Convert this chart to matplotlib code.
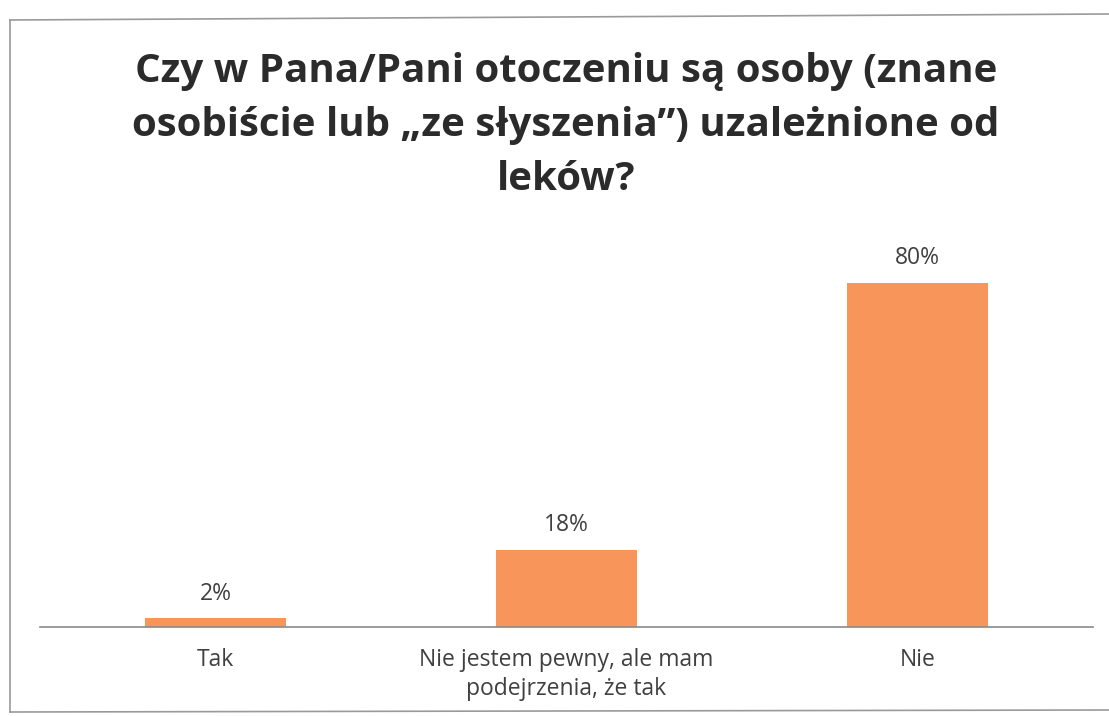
import matplotlib.pyplot as plt
from matplotlib.lines import Line2D

plt.rcParams['font.family'] = ['Open Sans', 'DejaVu Sans']

title = "Czy w Pana/Pani otoczeniu są osoby (znane\nosobiście lub \u201eze słyszenia\u201d) uzależnione od\nleków?"
categories = ["Tak", "Nie jestem pewny, ale mam\npodejrzenia, że tak", "Nie"]
shares = [0.02, 0.18, 0.80]
labels = ["2%", "18%", "80%"]

W, H = 1109, 716
fig = plt.figure(figsize=(W / 100, H / 100), dpi=100)

# axes placed in pixel terms
left, right, base, top = 40, 1093, 627, 240
ax = fig.add_axes([left / W, (H - base) / H, (right - left) / W, (base - top) / H])

x = range(len(categories))
ax.bar(x, shares, width=0.4, color='#F8955A')
for i, (v, lab) in enumerate(zip(shares, labels)):
    ax.annotate(lab, (i, v), xytext=(0, 9), textcoords='offset points',
                ha='center', va='bottom', fontsize=16.5, color='#404040')

ax.set_xlim(-0.5, 2.5)
ax.set_ylim(0, 0.9)
ax.set_yticks([])
ax.set_xticks(list(x))
ax.set_xticklabels(categories, fontsize=16.5, color='#404040', linespacing=1.3)
ax.tick_params(axis='x', length=0, pad=15)
for s in ['top', 'left', 'right']:
    ax.spines[s].set_visible(False)
ax.spines['bottom'].set_color('#8a8a8a')
ax.spines['bottom'].set_linewidth(1.2)

fig.text(566 / W, 1 - 52 / H, title, ha='center', va='top', fontsize=29,
         fontweight='bold', color='#2b2b2b', linespacing=1.5)

# chart frame from the scanned page
frame = dict(color='#9a9a9a', linewidth=1.2, transform=fig.transFigure)
fig.add_artist(Line2D([10 / W, 10 / W], [1 - 20 / H, 1 - 712 / H], **frame))
fig.add_artist(Line2D([10 / W, 1], [1 - 20 / H, 1 - 14 / H], **frame))
fig.add_artist(Line2D([10 / W, 1], [1 - 712 / H, 1 - 710 / H], **frame))

fig.savefig('out.png', dpi=100)
